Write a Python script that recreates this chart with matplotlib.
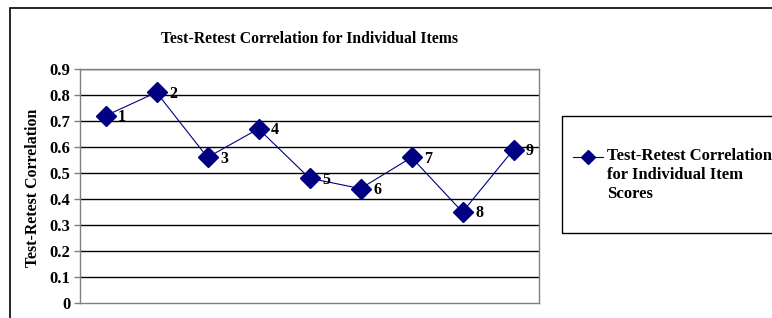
import matplotlib
matplotlib.use("Agg")
import matplotlib.pyplot as plt
from matplotlib.lines import Line2D
from matplotlib.patches import Rectangle

items = [1, 2, 3, 4, 5, 6, 7, 8, 9]
correlation = [0.72, 0.81, 0.56, 0.67, 0.48, 0.44, 0.56, 0.35, 0.59]
y_ticks = [0, 0.1, 0.2, 0.3, 0.4, 0.5, 0.6, 0.7, 0.8, 0.9]
y_tick_labels = ["0", "0.1", "0.2", "0.3", "0.4", "0.5", "0.6", "0.7", "0.8", "0.9"]
title = "Test-Retest Correlation for Individual Items"
y_label = "Test-Retest Correlation"
series_name = "Test-Retest Correlation\nfor Individual Item\nScores"

plt.rcParams["font.family"] = ["Liberation Serif", "DejaVu Serif"]
plt.rcParams["font.weight"] = "bold"

W, H = 772, 318
fig = plt.figure(figsize=(W / 100, H / 100), dpi=100)

# outer chart frame (runs off the right and bottom edges)
fig.add_artist(Rectangle((10 / W, -0.1), 1.2, 1 - 8 / H + 0.1, transform=fig.transFigure,
                         fill=False, edgecolor="black", lw=1.2))

ax = fig.add_axes([80 / W, 15 / H, 459 / W, 234 / H])
navy = "#000080"
ax.plot(items, correlation, color=navy, lw=0.8, marker="D", markersize=10,
        markerfacecolor=navy, markeredgecolor=navy, zorder=3)
for x, y in zip(items, correlation):
    ax.annotate(str(x), (x, y), xytext=(9, -1), textcoords="offset points",
                fontsize=11.5, fontweight="bold", va="center", ha="left")

ax.set_xlim(0.5, 9.5)
ax.set_ylim(0, 0.9)
ax.set_yticks(y_ticks)
ax.set_yticklabels(y_tick_labels, fontsize=12, fontweight="bold")
ax.set_xticks([])
for v in y_ticks[1:]:
    ax.axhline(v, color="black", lw=1, zorder=1)
for s in ["left", "right", "bottom", "top"]:
    ax.spines[s].set_color("#808080")
    ax.spines[s].set_linewidth(1)
ax.tick_params(axis="y", direction="out", length=4, width=1, color="#808080", pad=3)

ax.set_title(title, fontsize=11.3, fontweight="bold", pad=19)
fig.text(33 / W, 1 - 188 / H, y_label, rotation=90, ha="center", va="center",
         fontsize=11.4, fontweight="bold")

# legend box
fig.add_artist(Rectangle((562 / W, 1 - 233 / H), 0.5, 117 / H, transform=fig.transFigure,
                         fill=False, edgecolor="black", lw=1))
fig.add_artist(Line2D([573 / W, 603 / W], [1 - 157 / H] * 2, transform=fig.transFigure,
                      color=navy, lw=0.8))
fig.add_artist(Line2D([588 / W], [1 - 157 / H], transform=fig.transFigure, color=navy,
                      marker="D", markersize=7, markerfacecolor=navy))
fig.text(607 / W, 1 - 148 / H, series_name, ha="left", va="top", fontsize=12,
         fontweight="bold", linespacing=1.25)

plt.savefig("out.png", dpi=100)
plt.close()
